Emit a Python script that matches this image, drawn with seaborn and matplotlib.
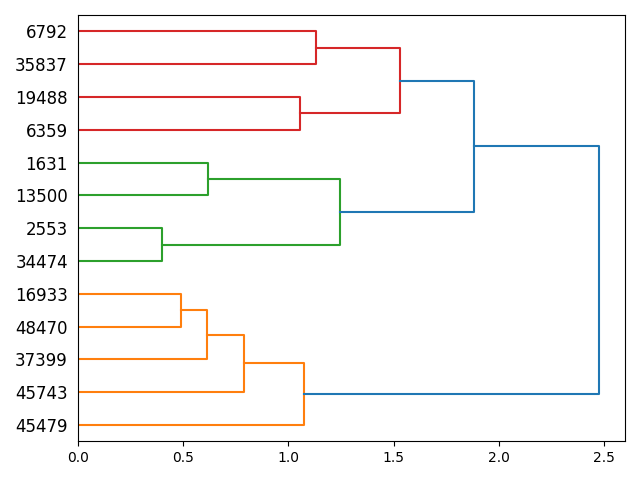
import matplotlib
matplotlib.use("Agg")
import matplotlib.pyplot as plt
import seaborn as sns
import pandas as pd

# Leaves, listed bottom to top
leaf_labels = ["45479", "45743", "37399", "48470", "16933", "34474", "2553",
               "13500", "1631", "6359", "19488", "35837", "6792"]

# Merges (scipy-linkage style: new node ids start at len(leaf_labels))
merge_left = [3, 2, 1, 0, 5, 7, 17, 9, 11, 20, 19, 16]
merge_right = [4, 13, 14, 15, 6, 8, 18, 10, 12, 21, 22, 23]
merge_height = [0.49, 0.615, 0.79, 1.075, 0.40, 0.62, 1.245, 1.055, 1.13, 1.53, 1.88, 2.475]
merge_color = ["C1", "C1", "C1", "C1", "C2", "C2", "C2", "C3", "C3", "C3", "C0", "C0"]

fig, ax = plt.subplots(figsize=(6.4, 4.8), dpi=100)

n = len(leaf_labels)
pos = {i: 5 + 10 * i for i in range(n)}
hgt = {i: 0.0 for i in range(n)}
for k, (a, b, h, c) in enumerate(zip(merge_left, merge_right, merge_height, merge_color)):
    node = n + k
    ya, yb = pos[a], pos[b]
    df = pd.DataFrame({"x": [hgt[a], h, h, hgt[b]], "y": [ya, ya, yb, yb]})
    sns.lineplot(data=df, x="x", y="y", sort=False, estimator=None, color=c,
                 linewidth=1.5, ax=ax)
    pos[node] = (ya + yb) / 2
    hgt[node] = h

ax.set_xlim(0, max(merge_height) * 1.05)
ax.set_ylim(0, 10 * n)
ax.set_yticks([pos[i] for i in range(n)])
ax.set_yticklabels(leaf_labels, fontsize=12)
for line in ax.get_yticklines():
    line.set_visible(False)
ax.set_xlabel("")
ax.set_ylabel("")
fig.tight_layout()
fig.savefig("out.png")
